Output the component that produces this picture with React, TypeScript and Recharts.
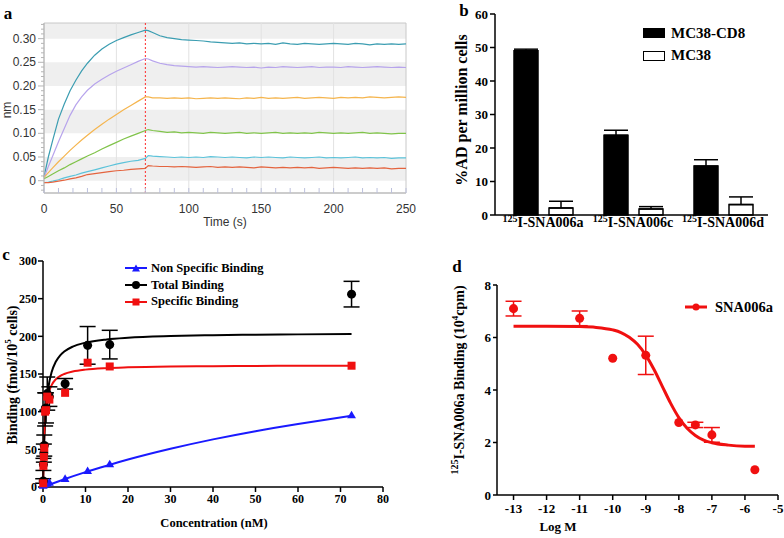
import React from "react";
import {
    LineChart,
    Line,
    XAxis,
    YAxis,
    ReferenceArea,
    ReferenceLine,
    BarChart,
    Bar,
    ErrorBar,
    ComposedChart,
    Scatter,
    ZAxis,
    Legend,
} from "recharts";

const SANS = "'Liberation Sans', Arial, sans-serif";
const SERIF = "'Liberation Serif', 'Times New Roman', serif";

// ---------- panel a : sensorgram ----------
const aTimes = [0, 3, 6, 10, 14, 18, 22, 26, 30, 35, 40, 45, 50, 55, 60, 65, 70, 72, 75,
    80, 85, 90, 95, 100, 105, 110, 115, 120, 125, 130, 135, 140, 145, 150, 155, 160, 165, 170, 175,
    180, 185, 190, 195, 200, 205, 210, 215, 220, 225, 230, 235, 240, 245, 250];

const aS1 = [.008, .05, .085, .13, .162, .19, .212, .232, .248, .265, .278, .288, .296, .302, .308, .313, .318, .317, .313,
    .306, .302, .300, .298, .297, .296, .295, .293, .292, .291, .290, .291, .289, .290, .289, .290, .288, .291, .289, .288,
    .290, .289, .288, .289, .290, .289, .288, .290, .289, .287, .289, .288, .289, .288, .289];
const aS2 = [.006, .03, .052, .082, .11, .138, .16, .177, .191, .204, .214, .223, .231, .238, .245, .252, .258, .257, .253,
    .248, .245, .243, .242, .241, .240, .241, .240, .239, .240, .241, .240, .239, .240, .238, .240, .239, .241, .240, .239,
    .240, .241, .239, .240, .240, .239, .241, .240, .239, .240, .241, .240, .239, .240, .239];
const aS3 = [.007, .017, .027, .040, .052, .064, .075, .086, .096, .108, .119, .130, .140, .150, .159, .168, .177, .177, .175,
    .175, .174, .175, .174, .175, .173, .174, .175, .174, .175, .174, .173, .175, .174, .176, .174, .175, .174, .175, .176,
    .174, .175, .176, .175, .174, .176, .175, .176, .175, .177, .176, .175, .176, .177, .176];
const aS4 = [.004, .009, .014, .021, .027, .034, .040, .046, .052, .059, .067, .074, .081, .088, .094, .100, .106, .108, .106,
    .104, .102, .103, .101, .102, .101, .100, .102, .101, .100, .101, .102, .100, .101, .100, .101, .102, .100, .101, .100,
    .101, .100, .102, .101, .100, .101, .100, .101, .102, .100, .101, .100, .099, .100, .100];
const aS5 = [-.004, -.003, -.001, .002, .006, .009, .012, .016, .019, .023, .027, .031, .035, .038, .041, .043, .047, .053, .052,
    .051, .050, .049, .050, .049, .050, .049, .051, .050, .049, .050, .049, .048, .050, .049, .050, .049, .048, .050, .049,
    .048, .049, .050, .048, .049, .048, .049, .050, .048, .049, .048, .049, .047, .048, .048];
const aS6 = [-.004, -.004, -.003, -.001, .001, .004, .006, .009, .013, .015, .017, .019, .021, .022, .024, .025, .026, .032, .031,
    .030, .030, .029, .030, .029, .028, .029, .030, .028, .029, .028, .029, .028, .027, .029, .028, .027, .028, .027, .028,
    .027, .028, .026, .027, .028, .027, .026, .027, .026, .027, .026, .027, .025, .026, .026];

const aSeries = [
    { key: "s1", values: aS1, color: "#3b9db1" },
    { key: "s2", values: aS2, color: "#b7a4ec" },
    { key: "s3", values: aS3, color: "#f5b54e" },
    { key: "s4", values: aS4, color: "#80c34a" },
    { key: "s5", values: aS5, color: "#5cc3da" },
    { key: "s6", values: aS6, color: "#e4643f" },
];
const aRows = aTimes.map((t, i) => {
    const row: any = { t };
    aSeries.forEach((s) => (row[s.key] = s.values[i]));
    return row;
});
const aXTicks = Array.from({ length: 26 }, (_, i) => i * 10);
const aYTicks = Array.from({ length: 36 }, (_, i) => (i - 2) / 100);
const aBands = [[0.30, 0.333], [0.20, 0.25], [0.10, 0.15], [0, 0.05]];
const aGridX = [50, 100, 150, 200];
const aDissocStart = 70;

// ---------- panel b : uptake bars ----------
const bCompounds = ["SNA006a", "SNA006c", "SNA006d"];
const bCd8 = [49.0, 23.8, 14.6];
const bCd8Err = [0.5, 1.5, 1.9];
const bMc38 = [2.1, 1.8, 3.1];
const bMc38Err = [2.0, 0.7, 2.3];
const bTicks = [0, 10, 20, 30, 40, 50, 60];
const bRows = bCompounds.map((name, i) => ({
    name,
    cd8: bCd8[i],
    cd8Err: [0, bCd8Err[i]],
    mc38: bMc38[i],
    mc38Err: [0, bMc38Err[i]],
}));

// ---------- panel c : saturation binding ----------
const cConc = [0.05, 0.1, 0.2, 0.3, 0.5, 0.7, 1.0, 1.5, 5.2, 10.5, 15.7, 72.6];
const cTotal = [8, 30, 45, 55, 103, 105, 124, 120, 137, 188, 189, 256];
const cTotalErr = [3, 8, 12, 14, 22, 20, 22, 13, 7, 25, 19, 17];
const cSpecific = [5, 28, 40, 52, 100, 102, 120, 116, 125, 165, 160, 161];
const cNonSpecific = [1, 2, 3, 3, 4, 4, 4, 5, 10, 20.5, 29.5, 94.5];
const cFitX = [0, 0.25, 0.5, 1, 1.5, 2, 3, 4, 5, 7, 10, 15, 20, 30, 40, 50, 60, 72.6];
const cTotalFit = [0, 53.9, 85.4, 120.6, 139.8, 151.9, 166.2, 174.5, 179.8, 186.4, 191.6, 195.9, 198.1, 200.3, 201.5, 202.2, 202.6, 203.0];
const cSpecificFit = [0, 62.3, 90, 115.7, 127.9, 135, 142.9, 147.3, 150, 153.2, 155.8, 157.8, 158.8, 159.9, 160.4, 160.7, 160.9, 161.1];
const cNsFitX = [0, 5, 10, 15, 20, 30, 40, 50, 60, 72.6];
const cNsFit = [0, 10.3, 19.7, 28.3, 36.4, 50.7, 63.2, 74.1, 83.6, 94.5];
const cXTicks = [0, 10, 20, 30, 40, 50, 60, 70, 80];
const cYTicks = [0, 50, 100, 150, 200, 250, 300];

const cTotalPts = cConc.map((x, i) => ({ x, y: cTotal[i], err: cTotalErr[i] }));
const cSpecPts = cConc.map((x, i) => ({ x, y: cSpecific[i] }));
const cNsPts = cConc.map((x, i) => ({ x, y: cNonSpecific[i] }));
const cTotalLine = cFitX.map((x, i) => ({ x, y: cTotalFit[i] }));
const cSpecLine = cFitX.map((x, i) => ({ x, y: cSpecificFit[i] }));
const cNsLine = cNsFitX.map((x, i) => ({ x, y: cNsFit[i] }));

// ---------- panel d : competition ----------
const dLogM = [-13, -11, -10, -9, -8, -7.5, -7, -5.7];
const dBinding = [7.1, 6.73, 5.21, 5.32, 2.76, 2.67, 2.29, 0.96];
const dErr = [0.28, 0.28, 0, 0.73, 0, 0.1, 0.28, 0];
const dFitX = [-13, -12, -11, -10.5, -10, -9.75, -9.5, -9.25, -9, -8.75, -8.5, -8.25, -8, -7.75, -7.5, -7.25, -7, -6.5, -6, -5.7];
const dFit = [6.43, 6.43, 6.415, 6.385, 6.29, 6.19, 6.01, 5.74, 5.33, 4.78, 4.14, 3.5, 2.95, 2.54, 2.27, 2.09, 1.99, 1.9, 1.86, 1.855];
const dXTicks = [-13, -12, -11, -10, -9, -8, -7, -6, -5];
const dYTicks = [0, 2, 4, 6, 8];
const dPts = dLogM.map((x, i) => ({ x, y: dBinding[i], err: dErr[i] }));
const dLine = dFitX.map((x, i) => ({ x, y: dFit[i] }));

// ---------- helpers ----------
const Txt = ({ cx, cy, rotate, style, children }: any) => (
    <div
        style={{
            position: "absolute",
            left: cx - 200,
            top: cy - 10,
            width: 400,
            height: 20,
            lineHeight: "20px",
            textAlign: "center",
            whiteSpace: "nowrap",
            transform: rotate ? "rotate(-90deg)" : undefined,
            ...style,
        }}
    >
        {children}
    </div>
);

const serifBold = (size: number) => ({ fontFamily: SERIF, fontWeight: "bold" as const, fontSize: size, color: "#000" });

const AYTick = ({ x, y, payload }: any) => {
    const v = payload.value;
    const major = Math.round(v * 100) % 5 === 0;
    return (
        <g>
            <line x1={x - (major ? 6 : 3)} x2={x} y1={y} y2={y} stroke="#b5b5b5" />
            {major && (
                <text x={x - 8} y={y} dy={4} textAnchor="end" fontFamily={SANS} fontSize={12} fill="#333">
                    {v === 0 ? "0" : v.toFixed(2)}
                </text>
            )}
        </g>
    );
};

const AXTick = ({ x, y, payload }: any) => {
    const v = payload.value;
    return (
        <g>
            <line x1={x} x2={x} y1={y - 5} y2={y} stroke="#bcc0dc" />
            {v % 50 === 0 && (
                <text x={x} y={y + 20} textAnchor="middle" fontFamily={SANS} fontSize={12} fill="#333">
                    {v}
                </text>
            )}
        </g>
    );
};

const IsoTick = ({ x, y, payload }: any) => (
    <text x={x} y={y + 12} textAnchor="middle" fontFamily={SERIF} fontWeight="bold" fontSize={14} fill="#000">
        <tspan fontSize={10} dy={-5}>125</tspan>
        <tspan dy={5}>{`I-${payload.value}`}</tspan>
    </text>
);

const axisStyle = {
    axisLine: { stroke: "#000", strokeWidth: 1.5 },
    tickLine: { stroke: "#000", strokeWidth: 1.5 },
};

const BLegend = () => (
    <div style={serifBold(15)}>
        {[
            { name: "MC38-CD8", fill: "#000" },
            { name: "MC38", fill: "#fff" },
        ].map((s) => (
            <div key={s.name} style={{ display: "flex", alignItems: "center", height: 22.5 }}>
                <span
                    style={{
                        display: "inline-block",
                        width: 22,
                        height: 10,
                        background: s.fill,
                        border: "1.5px solid #000",
                        boxSizing: "border-box",
                        marginRight: 6,
                    }}
                />
                {s.name}
            </div>
        ))}
    </div>
);

const Marker = ({ shape, color }: any) => {
    if (shape === "triangle") return <polygon points="11,1.5 15,8.5 7,8.5" fill={color} />;
    if (shape === "square") return <rect x={7.5} y={1.5} width={7} height={7} fill={color} />;
    return <circle cx={11} cy={5} r={4} fill={color} />;
};

const CLegend = () => (
    <div style={serifBold(12.5)}>
        {[
            { name: "Non Specific Binding", color: "#1a1aff", shape: "triangle" },
            { name: "Total Binding", color: "#000", shape: "circle" },
            { name: "Specific Binding", color: "#f01010", shape: "square" },
        ].map((s) => (
            <div key={s.name} style={{ display: "flex", alignItems: "center", height: 16.7 }}>
                <svg width={22} height={10} style={{ marginRight: 4 }}>
                    <line x1={0} x2={22} y1={5} y2={5} stroke={s.color} strokeWidth={2} />
                    <Marker shape={s.shape} color={s.color} />
                </svg>
                {s.name}
            </div>
        ))}
    </div>
);

const DLegend = () => (
    <div style={{ ...serifBold(14.5), display: "flex", alignItems: "center", height: 20 }}>
        <svg width={22} height={10} style={{ marginRight: 8 }}>
            <line x1={0} x2={22} y1={5} y2={5} stroke="#f01010" strokeWidth={3} />
            <circle cx={11} cy={5} r={3.5} fill="#f01010" />
        </svg>
        SNA006a
    </div>
);

const App: React.FC = () => {
    return (
        <div
            style={{
                position: "absolute",
                left: 0,
                top: 0,
                width: 784,
                height: 538,
                overflow: "hidden",
                background: "#fff",
            }}
        >
            {/* a */}
            <div style={{ position: "absolute", left: 0, top: 0 }}>
                <LineChart width={416} height={235} data={aRows} margin={{ top: 23, right: 10, bottom: 6, left: 0 }}>
                    {aBands.map(([lo, hi]) => (
                        <ReferenceArea key={lo} y1={lo} y2={hi} fill="#efefef" fillOpacity={1} stroke="none" />
                    ))}
                    {aGridX.map((x) => (
                        <ReferenceLine key={x} x={x} stroke="#e2e2e2" />
                    ))}
                    <ReferenceArea x1={0} x2={250} y1={-0.026} y2={0.333} fill="none" stroke="#c8c8c8" />
                    <XAxis
                        type="number"
                        dataKey="t"
                        domain={[0, 250]}
                        ticks={aXTicks}
                        interval={0}
                        tick={<AXTick />}
                        tickLine={false}
                        tickSize={0}
                        tickMargin={0}
                        height={36}
                        axisLine={{ stroke: "#b5b5b5" }}
                    />
                    <YAxis
                        type="number"
                        domain={[-0.026, 0.333]}
                        ticks={aYTicks}
                        interval={0}
                        tick={<AYTick />}
                        tickLine={false}
                        tickSize={0}
                        tickMargin={0}
                        width={44}
                        axisLine={{ stroke: "#b5b5b5" }}
                    />
                    <ReferenceLine x={aDissocStart} stroke="#ff2a2a" strokeDasharray="2 2" />
                    {aSeries.map((s) => (
                        <Line
                            key={s.key}
                            dataKey={s.key}
                            stroke={s.color}
                            strokeWidth={1.2}
                            dot={false}
                            type="linear"
                            isAnimationActive={false}
                        />
                    ))}
                </LineChart>
            </div>

            {/* b */}
            <div style={{ position: "absolute", left: 400, top: 0 }}>
                <BarChart
                    width={384}
                    height={250}
                    data={bRows}
                    margin={{ top: 14, right: 16, bottom: 10, left: 55 }}
                    barSize={24}
                    barGap={11}
                >
                    <XAxis
                        dataKey="name"
                        tick={<IsoTick />}
                        tickLine={false}
                        tickSize={0}
                        tickMargin={0}
                        interval={0}
                        height={25}
                        padding={{ left: 3, right: 0 }}
                        axisLine={axisStyle.axisLine}
                    />
                    <YAxis
                        domain={[0, 60]}
                        ticks={bTicks}
                        interval={0}
                        width={40}
                        tickSize={5}
                        tickMargin={2}
                        {...axisStyle}
                        tick={{ fontFamily: SERIF, fontWeight: "bold", fontSize: 13, fill: "#000" }}
                    />
                    <Bar dataKey="cd8" fill="#000" stroke="#000" strokeWidth={1.5} isAnimationActive={false}>
                        <ErrorBar dataKey="cd8Err" direction="y" width={12} stroke="#000" strokeWidth={1.5} />
                    </Bar>
                    <Bar dataKey="mc38" fill="#fff" stroke="#000" strokeWidth={1.5} isAnimationActive={false}>
                        <ErrorBar dataKey="mc38Err" direction="y" width={12} stroke="#000" strokeWidth={1.5} />
                    </Bar>
                    <Legend
                        layout="vertical"
                        align="center"
                        verticalAlign="middle"
                        content={() => <BLegend />}
                        wrapperStyle={{ left: 243, top: 22, width: 140 }}
                    />
                </BarChart>
            </div>

            {/* c */}
            <div style={{ position: "absolute", left: 0, top: 250 }}>
                <ComposedChart width={400} height={288} margin={{ top: 11, right: 17, bottom: 21, left: 0 }}>
                    <XAxis
                        type="number"
                        dataKey="x"
                        domain={[0, 80]}
                        ticks={cXTicks}
                        interval={0}
                        height={30}
                        tickSize={5}
                        tickMargin={2}
                        {...axisStyle}
                        tick={{ fontFamily: SERIF, fontWeight: "bold", fontSize: 12, fill: "#000" }}
                    />
                    <YAxis
                        type="number"
                        domain={[0, 300]}
                        ticks={cYTicks}
                        interval={0}
                        width={43}
                        tickSize={5}
                        tickMargin={1}
                        {...axisStyle}
                        tick={{ fontFamily: SERIF, fontWeight: "bold", fontSize: 12, fill: "#000" }}
                    />
                    <ZAxis zAxisId="tri" range={[34, 34]} />
                    <Line data={cNsLine} dataKey="y" stroke="#1a1aff" strokeWidth={2} dot={false} type="monotone" isAnimationActive={false} />
                    <Line data={cTotalLine} dataKey="y" stroke="#000" strokeWidth={2} dot={false} type="monotone" isAnimationActive={false} />
                    <Line data={cSpecLine} dataKey="y" stroke="#f01010" strokeWidth={2} dot={false} type="monotone" isAnimationActive={false} />
                    <Scatter data={cNsPts} dataKey="y" zAxisId="tri" fill="#1a1aff" shape="triangle" isAnimationActive={false} />
                    <Scatter data={cTotalPts} dataKey="y" fill="#000" shape="circle" isAnimationActive={false}>
                        <ErrorBar dataKey="err" direction="y" width={8} stroke="#000" strokeWidth={1.5} />
                    </Scatter>
                    <Scatter data={cSpecPts} dataKey="y" fill="#f01010" shape="square" isAnimationActive={false} />
                    <Legend
                        layout="vertical"
                        align="center"
                        verticalAlign="middle"
                        content={() => <CLegend />}
                        wrapperStyle={{ left: 125, top: 10, width: 220 }}
                    />
                </ComposedChart>
            </div>

            {/* d */}
            <div style={{ position: "absolute", left: 400, top: 250 }}>
                <ComposedChart width={384} height={288} margin={{ top: 35, right: 6, bottom: 18, left: 57 }}>
                    <XAxis
                        type="number"
                        dataKey="x"
                        domain={[-13.5, -5]}
                        ticks={dXTicks}
                        interval={0}
                        height={25}
                        tickSize={5}
                        tickMargin={4}
                        {...axisStyle}
                        tick={{ fontFamily: SERIF, fontWeight: "bold", fontSize: 13, fill: "#000" }}
                    />
                    <YAxis
                        type="number"
                        domain={[0, 8]}
                        ticks={dYTicks}
                        interval={0}
                        width={40}
                        tickSize={4}
                        tickMargin={2}
                        {...axisStyle}
                        tick={{ fontFamily: SERIF, fontWeight: "bold", fontSize: 13, fill: "#000" }}
                    />
                    <Line data={dLine} dataKey="y" stroke="#f01010" strokeWidth={3} dot={false} type="monotone" isAnimationActive={false} />
                    <Scatter data={dPts} dataKey="y" fill="#f01010" shape="circle" isAnimationActive={false}>
                        <ErrorBar dataKey="err" direction="y" width={8} stroke="#f01010" strokeWidth={1.5} />
                    </Scatter>
                    <Legend
                        layout="vertical"
                        align="center"
                        verticalAlign="middle"
                        content={() => <DLegend />}
                        wrapperStyle={{ left: 285, top: 47, width: 100 }}
                    />
                </ComposedChart>
            </div>

            {/* panel letters and axis titles */}
            <Txt cx={8} cy={14} style={serifBold(17)}>a</Txt>
            <Txt cx={464} cy={11} style={serifBold(17)}>b</Txt>
            <Txt cx={6} cy={255} style={serifBold(17)}>c</Txt>
            <Txt cx={457} cy={267} style={serifBold(17)}>d</Txt>

            <Txt cx={7} cy={110} rotate style={{ fontFamily: SANS, fontSize: 12, color: "#333" }}>nm</Txt>
            <Txt cx={225} cy={222} style={{ fontFamily: SANS, fontSize: 12, color: "#333" }}>Time (s)</Txt>

            <Txt cx={462} cy={110} rotate style={serifBold(16)}>%AD per million cells</Txt>

            <Txt cx={8} cy={375} rotate style={serifBold(14)}>
                Binding (fmol/10<sup style={{ fontSize: 9 }}>5</sup> cells)
            </Txt>
            <Txt cx={214} cy={523} style={serifBold(12.5)}>Concentration (nM)</Txt>

            <Txt cx={455} cy={380} rotate style={serifBold(14)}>
                <sup style={{ fontSize: 10 }}>125</sup>I-SNA006a Binding (10<sup style={{ fontSize: 9 }}>4</sup>cpm)
            </Txt>
            <Txt cx={558} cy={527} style={serifBold(13)}>Log M</Txt>
        </div>
    );
};

export default App;
